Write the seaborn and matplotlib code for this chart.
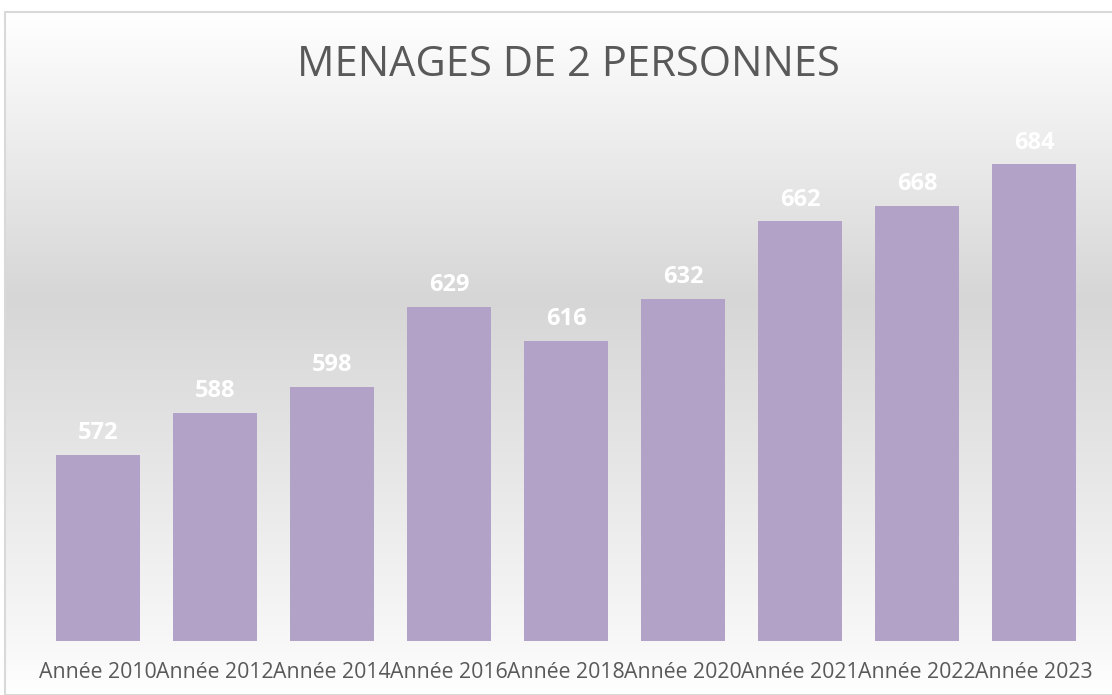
import numpy as np
import pandas as pd
import matplotlib.pyplot as plt
import seaborn as sns
from matplotlib.colors import LinearSegmentedColormap
from matplotlib.patches import Rectangle

# Données
annees = ['Année 2010', 'Année 2012', 'Année 2014', 'Année 2016', 'Année 2018',
          'Année 2020', 'Année 2021', 'Année 2022', 'Année 2023']
menages = [572, 588, 598, 629, 616, 632, 662, 668, 684]

titre = 'MENAGES DE 2 PERSONNES'

sns.set_style("white")
plt.rcParams['font.family'] = ['Open Sans', 'DejaVu Sans']

fig = plt.figure(figsize=(11.12, 6.95), dpi=100)

# Fond dégradé (blanc -> gris -> blanc)
bg = fig.add_axes([5 / 1112, 0, 1 - 5 / 1112, 1 - 12 / 695], zorder=0)
cmap = LinearSegmentedColormap.from_list(
    'fond', [(0.0, '#FFFFFF'), (0.42, '#D6D6D6'), (0.93, '#F8F8F8'), (1.0, '#FFFFFF')])
grad = np.linspace(0, 1, 256).reshape(-1, 1)
bg.imshow(grad, aspect='auto', cmap=cmap, extent=[0, 1, 0, 1], origin='upper')
bg.add_patch(Rectangle((0, 0), 1.2, 1, fill=False, edgecolor='#D9D9D9', lw=1.5,
                       transform=bg.transAxes, clip_on=False))
bg.set_axis_off()

# Graphique
ax = fig.add_axes([39.5 / 1112, 54 / 695, 1053 / 1112, 518 / 695], zorder=1)
ax.patch.set_alpha(0)
df = pd.DataFrame({'annee': annees, 'valeur': menages})
sns.barplot(data=df, x='annee', y='valeur', color='#B3A2C7', width=0.72,
            saturation=1, linewidth=0, ax=ax)
ax.set_ylim(500, 700)

for i, v in enumerate(menages):
    ax.annotate(str(v), (i, v), xytext=(0, 7), textcoords='offset points',
                ha='center', va='bottom', color='white', fontsize=17,
                fontweight='bold')

ax.set_xlabel('')
ax.set_ylabel('')
ax.set_yticks([])
ax.tick_params(axis='x', length=0, labelsize=15.3, labelcolor='#595959', pad=15)
sns.despine(ax=ax, left=True, bottom=True)

fig.text(568 / 1112, 1 - 65 / 695, titre, ha='center', va='center', fontsize=30,
         color='#595959')

fig.savefig('out.png', dpi=100)
